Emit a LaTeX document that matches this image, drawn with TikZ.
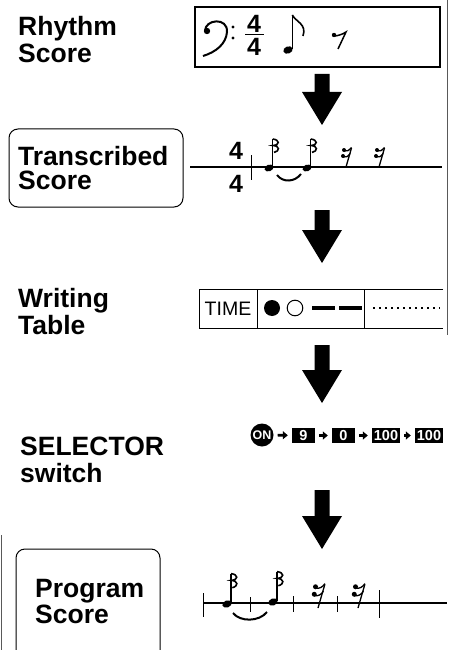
\documentclass[tikz,border=0pt]{standalone}
\usepackage{fontspec}
\setmainfont{Liberation Sans}
\usetikzlibrary{arrows.meta}
\begin{document}
\begin{tikzpicture}[x=1pt,y=-1pt,
  lab/.style={font=\bfseries\fontsize{26.5}{#1}\selectfont, inner sep=0pt, align=left, anchor=base west},
  digit/.style={font=\bfseries\fontsize{25}{25}\selectfont, inner sep=0pt},
  selbox/.style={fill=black, text=white, font=\bfseries\fontsize{14.5}{14.5}\selectfont, inner sep=0pt, minimum height=15.5pt},
  selarrow/.style={line width=2.6pt, -{Triangle[length=5pt,width=8pt]}, shorten <=4pt, shorten >=4pt},
  pics/bigarrow/.style={code={
    \fill (-7.5,0) -- (7.5,0) -- (7.5,#1) -- (20,#1) -- (0,{#1+33}) -- (-20,#1) -- (-7.5,#1) -- cycle;
  }},
  pics/notesixteen/.style={code={
    \fill[rotate=20] (0,0) ellipse (4.6pt and 3.3pt);
    \draw[line width=1.2pt] (3.8,-1) -- (3.8,-29);
    \draw[line width=1.6pt] (3.8,-29) .. controls (11,-28) and (11,-23) .. (4,-22.5)
                          .. controls (11,-22) and (11,-17) .. (5,-15.5);
  }},
  pics/restsixteen/.style={code={
    \draw[line width=1.3pt] (5.5,-19) -- (0,0);
    \fill (-2,-17) circle (2pt);
    \draw[line width=1.3pt] (-2,-16) .. controls (1,-15) and (4,-17) .. (5.5,-19.5);
    \fill (-3,-11) circle (2pt);
    \draw[line width=1.3pt] (-3,-10) .. controls (0,-9) and (3,-11) .. (4.3,-13.5);
  }}
]
\useasboundingbox (0,0) rectangle (450,650);

% scan edge lines
\draw[line width=0.8pt, gray!70!black] (447,0) -- (447,335);
\draw[line width=0.8pt, gray!70!black] (1.5,535) -- (1.5,650);

% ---------------- Rhythm Score ----------------
\node[lab=27] (rhythm) at (18,63) {Rhythm\\Score};
\draw[line width=1.2pt] (195,7) rectangle (440,67);
% bass clef
\fill (207,31) circle (3.2pt);
\draw[line width=2pt] (205,31) .. controls (205,19) and (228,17) .. (227,32)
   .. controls (226,44) and (216,52) .. (203,56);
\fill (233,27) circle (1.7pt);
\fill (233,38) circle (1.7pt);
% time signature
\node[digit] (tsA) at (254,24) {4};
\node[digit] (tsB) at (254,47) {4};
\draw[line width=1pt] (245,35) -- (264,35);
% eighth note
\fill[rotate around={20:(288,50)}] (288,50) ellipse (4.8pt and 3.6pt);
\draw[line width=1.3pt] (292.3,49) -- (292.3,15);
\draw[line width=1.6pt] (292.3,15) .. controls (296,22) and (307,24) .. (303,36);
% eighth rest
\fill (334,35) circle (2.2pt);
\draw[line width=1.5pt] (334,36) .. controls (338,36) and (343,34) .. (346,32) -- (338,49);

\pic at (322,74) {bigarrow=18};

% ---------------- Transcribed Score ----------------
\draw[line width=1pt, rounded corners=9pt] (9,129) rectangle (183,207);
\node[lab=24.5] (trans) at (18,189.5) {Transcribed\\Score};
\draw[line width=1.2pt] (190,167) -- (442,167);
\node[digit] (tcA) at (236,151) {4};
\node[digit] (tcB) at (236,184) {4};
\draw[line width=1pt] (251,155) -- (251,180);
\pic at (269,168) {notesixteen};
\pic at (307,168) {notesixteen};
\draw[line width=2pt] (277,175) .. controls (283,183) and (295,182) .. (301,174);
\pic at (346,167) {restsixteen};
\pic at (379,167) {restsixteen};

\pic at (322,210) {bigarrow=20};

% ---------------- Writing Table ----------------
\node[lab=27] (writ) at (18,334) {Writing\\Table};
\draw[line width=1pt] (443,289) -- (199,289) -- (199,328) -- (443,328);
\draw[line width=1pt] (257,289) -- (257,328);
\draw[line width=1pt] (364,289) -- (364,328);
\node[font=\fontsize{19.5}{19.5}\selectfont, inner sep=0pt] (time) at (228,309) {TIME};
\fill (272,308) circle (8pt);
\draw[line width=1pt] (295,308) circle (7.8pt);
\draw[line width=4pt] (312,308) -- (335,308);
\draw[line width=4pt] (339,308) -- (362,308);
\draw[line width=1.6pt, dash pattern=on 1.6pt off 4.4pt] (373,308) -- (440,308);

\pic at (322,345) {bigarrow=25};

% ---------------- SELECTOR switch ----------------
\node[lab=27] (sel) at (20,482) {SELECTOR\\switch};
\node[circle, fill=black, text=white, minimum size=23pt, inner sep=0pt,
      font=\bfseries\fontsize{12.5}{12.5}\selectfont] (on) at (262,435) {ON};
\node[selbox, minimum width=23pt] (s9) at (303.5,435.5) {9};
\node[selbox, minimum width=23pt] (s0) at (343.5,435.5) {0};
\node[selbox, minimum width=28pt] (s100a) at (386,435.5) {100};
\node[selbox, minimum width=28pt] (s100b) at (429,435.5) {100};
\draw[selarrow] (on) -- (s9);
\draw[selarrow] (s9) -- (s0);
\draw[selarrow] (s0) -- (s100a);
\draw[selarrow] (s100a) -- (s100b);

\pic at (322,490) {bigarrow=26};

% ---------------- Program Score ----------------
\draw[line width=1pt, rounded corners=9pt] (16,660) -- (16,549) -- (160,549) -- (160,660);
\node[lab=23.5] (prog) at (35,623) {Program\\Score};
\draw[line width=1.2pt] (203,603) -- (447,603);
\draw[line width=1pt] (203,593) -- (203,617);
\draw[line width=1pt] (250,597) -- (250,612);
\draw[line width=1pt] (293,596) -- (293,612);
\draw[line width=1pt] (337,596) -- (337,612);
\draw[line width=1pt] (379,590) -- (379,618);
\pic[scale=1.05] at (227,604) {notesixteen};
\pic[scale=1.05] at (273,602) {notesixteen};
\draw[line width=2pt] (233,613) .. controls (240,622) and (259,622) .. (267,612);
\pic[scale=1.25] at (318,608) {restsixteen};
\pic[scale=1.25] at (358,608) {restsixteen};
\end{tikzpicture}
\end{document}
